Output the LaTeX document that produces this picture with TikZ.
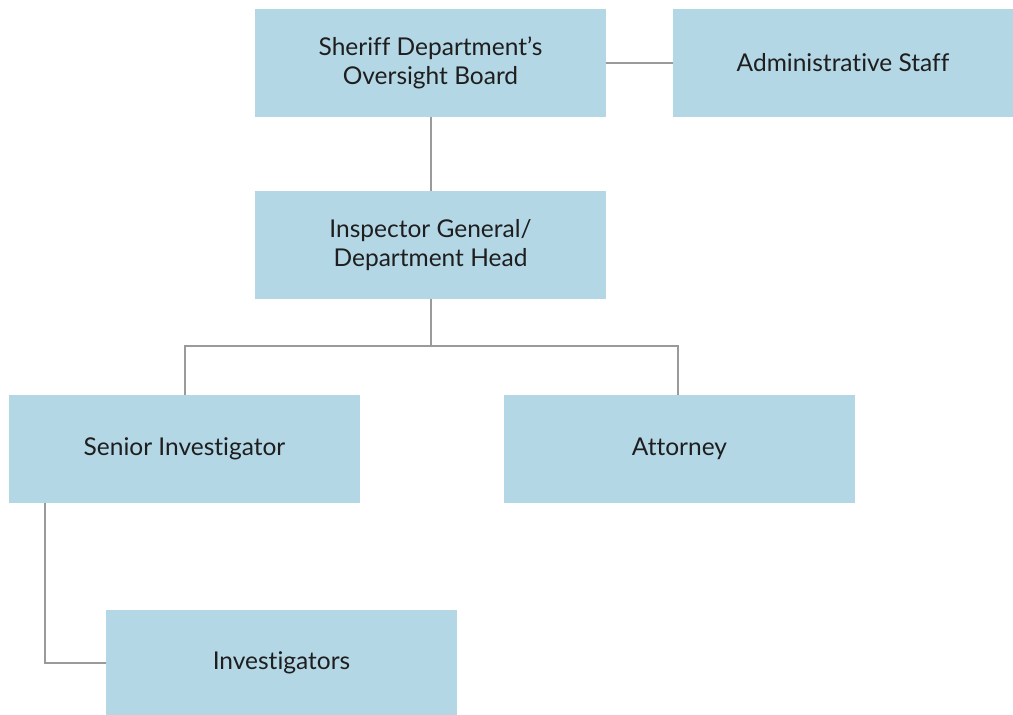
\documentclass[tikz,border=0pt]{standalone}
\usepackage{fontspec}
\setmainfont[Ligatures={NoCommon}]{Lato}
\usepackage{tikz}
\usetikzlibrary{positioning}
\definecolor{boxblue}{HTML}{B4D7E6}
\definecolor{linegray}{HTML}{9A9A9C}
\definecolor{textdark}{HTML}{1E1E1E}

\begin{document}
\begin{tikzpicture}[
  x=1pt, y=-1pt,
  unit/.style={
    rectangle, fill=boxblue, inner sep=0pt,
    minimum width=351pt, minimum height=108pt,
    font=\fontsize{24.5}{29.5}\selectfont, text=textdark, align=center
  },
  conn/.style={draw=linegray, line width=2pt}
]
\useasboundingbox (0,0) rectangle (1013,715);

% Units
\node[unit] (board) at (430.5,63) {Sheriff Department's\\Oversight Board};
\node[unit, minimum width=340pt] (admin) at (843,63) {Administrative Staff};
\node[unit] (ig) at (430.5,245) {Inspector General/\\Department Head};
\node[unit] (senior) at (184.5,449) {Senior Investigator};
\node[unit] (attorney) at (679.5,449) {Attorney};
\node[unit, minimum height=105pt] (invest) at (281.5,662.5) {Investigators};

% Reporting lines
\draw[conn] (board.east) -- (admin.west);
\draw[conn] (board.south) -- (ig.north);
\draw[conn] (ig.south) -- ++(0,47) -| (senior.north);
\draw[conn] (ig.south) -- ++(0,47) -| ([xshift=-2pt]attorney.north);
\draw[conn] ([xshift=36pt]senior.south west) |- (invest.west);

\end{tikzpicture}
\end{document}
